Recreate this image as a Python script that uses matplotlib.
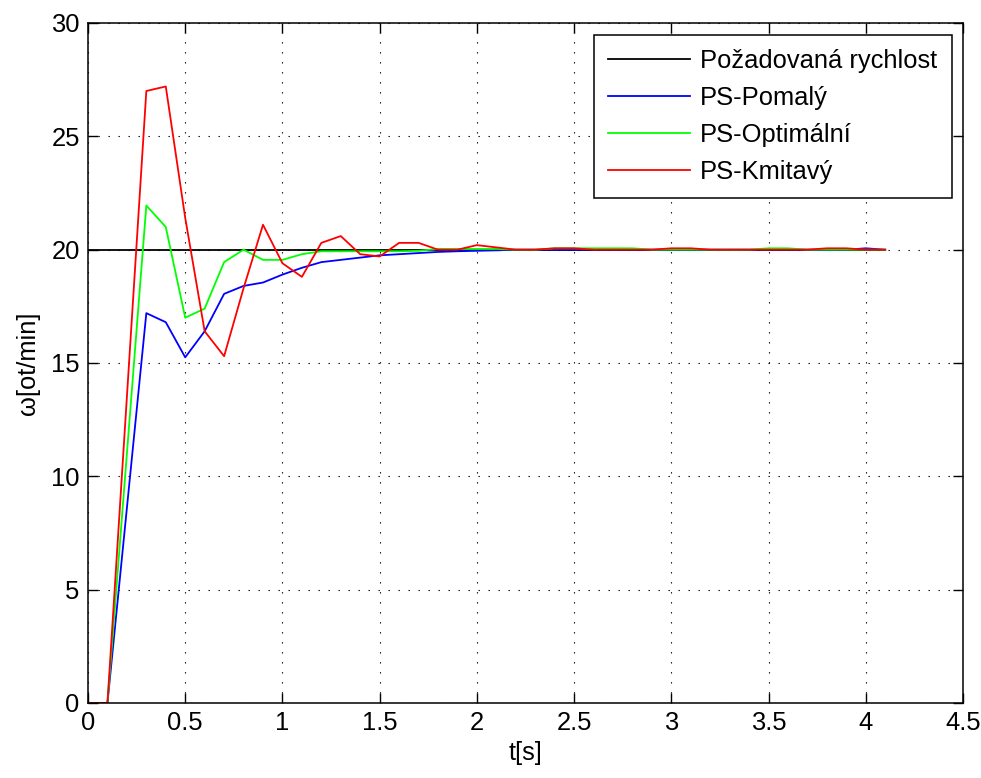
import matplotlib
matplotlib.use('Agg')
import matplotlib.pyplot as plt
import numpy as np

# Simulation output, sampled every 0.1 s
t = np.round(np.arange(0, 4.11, 0.1), 2)

omega_ref = [20.0, 20.0]
t_ref = [0.0, 4.1]

omega_pomaly = [0, 0, 8.6, 17.2, 16.8, 15.25, 16.4, 18.05, 18.4, 18.55,
                18.9, 19.2, 19.45, 19.55, 19.65, 19.75, 19.8, 19.85, 19.9, 19.93,
                19.95, 19.97, 20.0, 20.0, 20.0, 20.0, 20.0, 20.0, 20.0, 20.0,
                20.0, 20.0, 20.0, 20.0, 20.0, 20.0, 20.0, 20.0, 20.0, 20.0,
                20.06, 20.0]

omega_optimalni = [0, 0, 11.0, 21.95, 21.0, 17.0, 17.4, 19.45, 20.0, 19.55,
                   19.55, 19.8, 19.93, 19.93, 19.93, 19.93, 19.93, 19.95, 20.03, 20.03,
                   20.03, 20.03, 20.0, 20.0, 20.06, 20.06, 20.06, 20.06, 20.06, 20.0,
                   20.0, 20.0, 20.0, 20.0, 20.0, 20.06, 20.06, 20.0, 20.0, 20.0,
                   20.0, 20.0]

omega_kmitavy = [0, 0, 13.5, 27.0, 27.2, 21.4, 16.4, 15.3, 18.3, 21.1,
                 19.4, 18.8, 20.3, 20.6, 19.8, 19.7, 20.3, 20.3, 20.0, 20.0,
                 20.2, 20.1, 20.0, 20.0, 20.06, 20.06, 20.0, 20.0, 20.0, 20.0,
                 20.06, 20.06, 20.0, 20.0, 20.0, 20.0, 20.0, 20.0, 20.06, 20.06,
                 20.0, 20.0]

labels = ['Požadovaná rychlost', 'PS-Pomalý', 'PS-Optimální', 'PS-Kmitavý']

plt.rcParams['font.family'] = ['Liberation Sans', 'DejaVu Sans']
plt.rcParams['font.size'] = 18.4

fig = plt.figure(figsize=(9.81, 7.78), dpi=100)
ax = fig.add_axes([88 / 981, 75 / 778, 875 / 981, 680 / 778])

lw = 1.3
ax.plot(t_ref, omega_ref, color='black', lw=lw, label=labels[0])
ax.plot(t, omega_pomaly, color='#0000ff', lw=lw, label=labels[1])
ax.plot(t, omega_optimalni, color='#00ff00', lw=lw, label=labels[2])
ax.plot(t, omega_kmitavy, color='#ff0000', lw=lw, label=labels[3])

ax.set_xlim(0, 4.5)
ax.set_ylim(0, 30)
ax.set_xticks(np.arange(0, 4.51, 0.5))
ax.set_xticklabels(['0', '0.5', '1', '1.5', '2', '2.5', '3', '3.5', '4', '4.5'])
ax.set_yticks(np.arange(0, 31, 5))

ax.grid(True, color='black', linestyle=(0, (1.2, 7.8)), linewidth=0.8)
ax.tick_params(direction='in', length=7, width=1.0, top=True, right=True,
               pad=6)
for sp in ax.spines.values():
    sp.set_linewidth(1.1)

ax.set_xlabel('t[s]', labelpad=4)
ax.set_ylabel('ω[ot/min]', labelpad=8)

leg = ax.legend(loc='upper right', fancybox=False, framealpha=1,
                edgecolor='black', handlelength=3.2, handletextpad=0.4,
                borderaxespad=0.45, labelspacing=0.52, borderpad=0.55)
leg.get_frame().set_linewidth(1.1)

fig.savefig('out.png', dpi=100)
